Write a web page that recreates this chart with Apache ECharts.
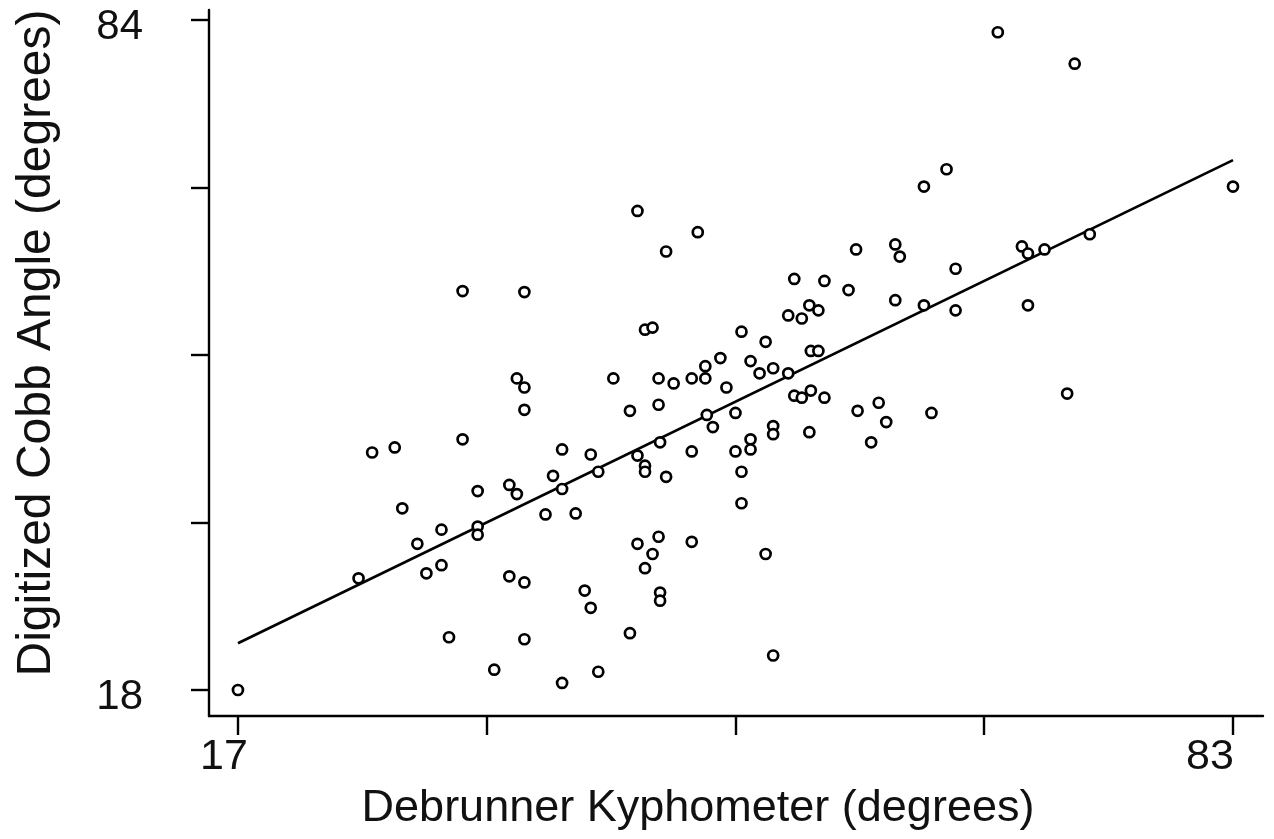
<!DOCTYPE html>
<html>
<head>
<meta charset="utf-8">
<title>Digitized Cobb Angle vs Debrunner Kyphometer</title>
<script src="https://cdn.jsdelivr.net/npm/echarts@6/dist/echarts.min.js"></script>
<style>
  html, body { margin: 0; padding: 0; background: #fff; }
  #chart { width: 1274px; height: 839px; }
</style>
</head>
<body>
<div id="chart"></div>
<script>
// kyphometer readings (x) and digitized cobb angles (y)
var kypho = [
  31.9, 36.0, 43.5, 47.5, 45.4, 58.0, 60.6, 60.9, 53.9, 55.9,
  57.5, 60.6, 54.9, 55.5, 53.5, 54.4, 44.0, 44.5, 50.4, 52.0,
  55.0, 55.5, 49.0, 51.0, 67.4, 72.5, 64.0, 62.5, 83.0, 69.0,
  69.4, 70.5, 73.5, 64.6, 62.5, 64.6, 69.4, 63.0, 72.0, 35.5,
  36.0, 36.0, 31.9, 25.9, 27.4, 38.5, 37.9, 38.5, 32.9, 35.0,
  35.5, 27.9, 37.4, 30.5, 32.9, 32.9, 28.9, 25.0, 29.5, 30.5,
  35.0, 36.0, 31.0, 36.0, 34.0, 38.5, 17.0, 41.9, 44.9, 45.9,
  47.1, 48.0, 48.0, 51.6, 52.5, 53.5, 49.4, 43.0, 44.9, 48.1,
  50.0, 53.9, 54.4, 55.0, 55.9, 58.1, 59.5, 60.0, 59.0, 48.5,
  52.5, 52.5, 54.9, 51.0, 51.0, 50.0, 47.1, 45.0, 43.5, 44.0,
  44.0, 45.4, 40.4, 40.9, 39.4, 50.4, 50.4, 43.5, 44.9, 44.5,
  47.1, 52.0, 44.0, 40.0, 40.4, 45.0, 45.0, 43.0, 52.5, 40.9
];
var cobb = [
  57.3, 57.2, 65.2, 63.1, 61.2, 61.4, 61.9, 60.7, 58.5, 58.3,
  57.4, 56.4, 55.9, 55.4, 54.9, 54.6, 53.5, 53.7, 53.3, 52.3,
  51.4, 51.4, 50.7, 50.4, 82.8, 79.7, 69.3, 67.6, 67.6, 61.7,
  61.0, 61.4, 62.9, 59.5, 55.9, 55.4, 55.9, 45.3, 47.2, 48.7,
  47.8, 45.6, 42.7, 41.4, 41.9, 41.7, 39.1, 37.8, 37.6, 38.2,
  37.3, 35.9, 35.3, 33.8, 34.1, 33.3, 32.4, 29.0, 29.5, 30.3,
  29.2, 28.6, 23.2, 23.0, 20.0, 18.7, 18.0, 48.7, 48.7, 48.2,
  48.7, 48.7, 49.9, 49.2, 49.7, 49.2, 47.8, 45.5, 46.1, 45.1,
  45.3, 47.0, 46.8, 47.5, 46.8, 45.5, 46.3, 44.4, 42.4, 43.9,
  44.0, 43.2, 43.4, 42.7, 41.7, 41.5, 41.5, 42.4, 41.1, 40.1,
  39.5, 39.0, 41.2, 39.5, 35.4, 39.5, 36.4, 32.4, 33.1, 31.4,
  32.6, 31.4, 30.0, 27.8, 26.1, 27.6, 26.8, 23.6, 21.4, 19.8
];

// fitted line end points
var fitX = [17, 83];
var fitY = [22.6, 70.2];

var xTicks = [17, 33.5, 50, 66.5, 83];
var xLabels = [17, 83];
var yTicks = [18, 34.5, 51, 67.5, 84];
var yLabels = [18, 84];

var font = '"Liberation Sans", Arial, sans-serif';

var points = [];
for (var i = 0; i < kypho.length; i++) points.push([kypho[i], cobb[i]]);
var fit = [];
for (var j = 0; j < fitX.length; j++) fit.push([fitX[j], fitY[j]]);

var chart = echarts.init(document.getElementById('chart'));
chart.setOption({
  animation: false,
  backgroundColor: '#fff',
  grid: { left: 209, right: 11, top: 10, bottom: 123 },
  xAxis: {
    type: 'value',
    min: 15.08,
    max: 84.99,
    splitLine: { show: false },
    axisLine: { show: true, onZero: false, lineStyle: { color: '#000', width: 2.4 } },
    axisTick: { show: true, customValues: xTicks, length: 19, lineStyle: { color: '#000', width: 2.4 } },
    axisLabel: {
      customValues: xLabels,
      color: '#111', fontSize: 43, fontFamily: font, margin: 20,
      // the printed labels sit a little left of their ticks
      formatter: function (v) { return v === 17 ? '{a|17}' : '{b|83}'; },
      rich: {
        a: { fontSize: 43, fontFamily: font, color: '#111', padding: [0, 28, 0, 0] },
        b: { fontSize: 43, fontFamily: font, color: '#111', padding: [0, 46, 0, 0] }
      }
    },
    name: 'Debrunner Kyphometer (degrees)',
    nameLocation: 'middle',
    nameGap: 70,
    nameTextStyle: { color: '#111', fontSize: 45, fontFamily: font, verticalAlign: 'top', padding: [0, 76, 0, 0] }
  },
  yAxis: {
    type: 'value',
    min: 15.44,
    max: 84.99,
    splitLine: { show: false },
    axisLine: { show: true, onZero: false, lineStyle: { color: '#000', width: 2.4 } },
    axisTick: { show: true, customValues: yTicks, length: 18, lineStyle: { color: '#000', width: 2.4 } },
    axisLabel: {
      customValues: yLabels,
      color: '#111', fontSize: 42, fontFamily: font, margin: 66,
      // printed slightly below their ticks
      formatter: function (v) { return '{n|' + v + '}'; },
      rich: { n: { fontSize: 42, fontFamily: font, color: '#111', padding: [14, 0, 0, 0] } }
    },
    name: 'Digitized Cobb Angle (degrees)',
    nameLocation: 'middle',
    nameGap: 148,
    nameTextStyle: { color: '#111', fontSize: 48, fontFamily: font, padding: [0, 0, 0, 40] }
  },
  series: [
    {
      type: 'line',
      data: fit,
      symbol: 'none',
      lineStyle: { color: '#000', width: 2.7 },
      z: 2
    },
    {
      type: 'scatter',
      data: points,
      symbol: 'circle',
      symbolSize: 10,
      itemStyle: { color: '#fff', borderColor: '#000', borderWidth: 2.7, opacity: 1 },
      z: 3
    }
  ]
});
</script>
</body>
</html>
